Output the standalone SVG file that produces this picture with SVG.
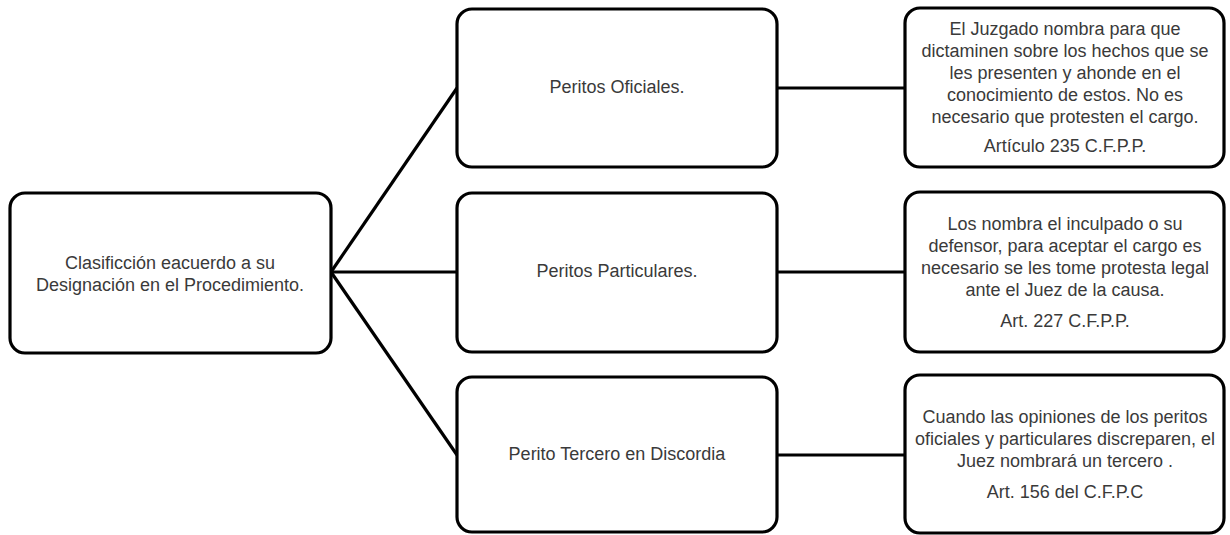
<svg xmlns="http://www.w3.org/2000/svg" width="1230" height="535" viewBox="0 0 1230 535">
<style>
.box{fill:#fff;stroke:#000;stroke-width:3.2}
.t{font-family:"Liberation Sans",Arial,sans-serif;font-size:18px;fill:#3a3a3a;text-anchor:middle}
.c{stroke:#000;stroke-width:3.2;fill:none}
</style>
<rect width="1230" height="535" fill="#fff"/>
<g id="connectors">
<line class="c" x1="331" y1="272" x2="457" y2="88"/>
<line class="c" x1="331" y1="272" x2="457" y2="272"/>
<line class="c" x1="331" y1="272" x2="457" y2="455"/>
<line class="c" x1="777" y1="88" x2="905" y2="88"/>
<line class="c" x1="777" y1="272" x2="905" y2="272"/>
<line class="c" x1="777" y1="455" x2="905" y2="455"/>
</g>
<g id="root">
<rect class="box" x="10" y="193" width="321" height="160" rx="15"/>
<text class="t" x="170" y="269">Clasificción eacuerdo a su</text>
<text class="t" x="170" y="291">Designación en el Procedimiento.</text>
</g>
<g id="oficiales">
<rect class="box" x="457" y="9" width="320" height="158" rx="15"/>
<text class="t" x="617" y="93">Peritos Oficiales.</text>
</g>
<g id="particulares">
<rect class="box" x="457" y="193" width="320" height="159" rx="15"/>
<text class="t" x="617" y="277">Peritos Particulares.</text>
</g>
<g id="tercero">
<rect class="box" x="457" y="377" width="320" height="155" rx="15"/>
<text class="t" x="617" y="460">Perito Tercero en Discordia</text>
</g>
<g id="desc-oficiales">
<rect class="box" x="905" y="8" width="319" height="159" rx="15"/>
<text class="t" x="1065" y="35">El Juzgado nombra para que</text>
<text class="t" x="1065" y="57">dictaminen sobre los hechos que se</text>
<text class="t" x="1065" y="79">les presenten y ahonde en el</text>
<text class="t" x="1065" y="101">conocimiento de estos. No es</text>
<text class="t" x="1065" y="123">necesario que protesten el cargo.</text>
<text class="t" x="1065" y="152">Artículo 235 C.F.P.P.</text>
</g>
<g id="desc-particulares">
<rect class="box" x="905" y="192" width="319" height="160" rx="15"/>
<text class="t" x="1065" y="230">Los nombra el inculpado o su</text>
<text class="t" x="1065" y="252">defensor, para aceptar el cargo es</text>
<text class="t" x="1065" y="274">necesario se les tome protesta legal</text>
<text class="t" x="1065" y="296">ante el Juez de la causa.</text>
<text class="t" x="1065" y="327">Art. 227 C.F.P.P.</text>
</g>
<g id="desc-tercero">
<rect class="box" x="905" y="375" width="319" height="158" rx="15"/>
<text class="t" x="1065" y="423">Cuando las opiniones de los peritos</text>
<text class="t" x="1065" y="445">oficiales y particulares discreparen, el</text>
<text class="t" x="1065" y="467">Juez nombrará un tercero .</text>
<text class="t" x="1065" y="498">Art. 156 del C.F.P.C</text>
</g>
</svg>
